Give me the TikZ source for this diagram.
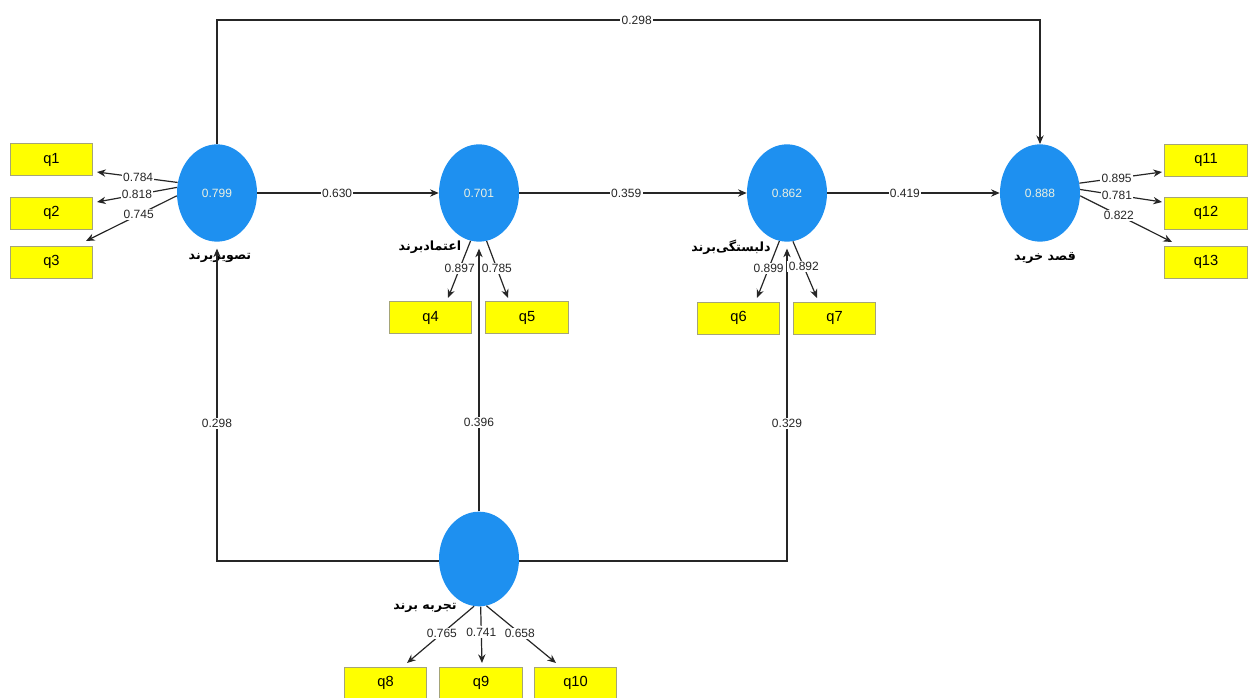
\documentclass[tikz,border=0pt]{standalone}
\usepackage{fontspec}
\setmainfont{Liberation Sans}
\newfontfamily\arabicfont[Script=Arabic]{DejaVu Sans}
\TeXXeTstate=1
\usetikzlibrary{shapes.geometric,arrows.meta}
\definecolor{latent}{RGB}{30,144,240}
\definecolor{latenttext}{RGB}{235,240,225}
\definecolor{itemfill}{RGB}{255,255,0}
\definecolor{itemdraw}{RGB}{165,165,120}
\begin{document}
\begin{tikzpicture}[x=0.75pt,y=-0.75pt,
  construct/.style={ellipse,fill=latent,draw=none,minimum width=60pt,minimum height=73pt,inner sep=0pt,
    text=latenttext,font=\fontsize{9}{11}\selectfont},
  item/.style={rectangle,fill=itemfill,draw=itemdraw,line width=0.6pt,minimum width=62pt,minimum height=24pt,
    inner sep=0pt,font=\fontsize{11}{13}\selectfont},
  cname/.style={font=\arabicfont\bfseries\fontsize{9.5}{11}\selectfont},
  path/.style={draw=black!85,line width=0.9pt},
  arr/.style={path,-{Stealth[length=6.5pt,width=5.5pt]}},
  lab/.style={fill=white,inner sep=1pt,font=\fontsize{9}{10}\selectfont,text=black!85}]
\useasboundingbox (0,0) rectangle (1250,698);

% latent constructs
\node[construct] (img) at (217,193) {0.799};
\node[construct] (trust) at (479,193) {0.701};
\node[construct] (att) at (787,193) {0.862};
\node[construct] (pi) at (1040,193) {0.888};
\node[construct,minimum height=71pt] (exp) at (479,559) {};

% construct names
\node[cname] (nimg) at (220,258) {\beginR تصویربرند\endR};
\node[cname] (ntrust) at (430,247) {\beginR اعتمادبرند\endR};
\node[cname] (natt) at (731,247) {\beginR دلبستگی‌برند\endR};
\node[cname] (npi) at (1045,258) {\beginR قصد خرید\endR};
\node[cname] (nexp) at (425,608) {\beginR تجربه برند\endR};

% indicators
\node[item] (q1) at (51.5,159.5) {q1};
\node[item] (q2) at (51.5,213) {q2};
\node[item] (q3) at (51.5,262) {q3};
\node[item] (q4) at (430.5,317.5) {q4};
\node[item] (q5) at (527,317.5) {q5};
\node[item] (q6) at (738.5,318) {q6};
\node[item] (q7) at (834.5,318) {q7};
\node[item] (q8) at (385.5,683) {q8};
\node[item] (q9) at (481,683) {q9};
\node[item] (q10) at (575.5,683) {q10};
\node[item] (q11) at (1206,160) {q11};
\node[item] (q12) at (1206,213) {q12};
\node[item] (q13) at (1206,262) {q13};

% arrow ends just outside the indicator boxes
\coordinate (t1) at (97,172);
\coordinate (t2) at (97,202);
\coordinate (t3) at (86,241);
\coordinate (t4) at (448,298);
\coordinate (t5) at (508,298);
\coordinate (t6) at (757,298);
\coordinate (t7) at (817,298);
\coordinate (t8) at (407,663);
\coordinate (t9) at (482,663);
\coordinate (t10) at (556,663);
\coordinate (t11) at (1162,172);
\coordinate (t12) at (1162,202);
\coordinate (t13) at (1172,242);

% path corners
\coordinate (topl) at (217,20);
\coordinate (topr) at (1040,20);
\coordinate (botl) at (217,561);
\coordinate (botr) at (787,561);

% structural paths
\draw[arr] (img.north) -- (topl) -- node[lab,pos=0.51] {0.298} (topr) -- (pi.north);
\draw[arr] (img) -- node[lab,pos=0.44] {0.630} (trust);
\draw[arr] (trust) -- node[lab,pos=0.47] {0.359} (att);
\draw[arr] (att) -- node[lab,pos=0.45] {0.419} (pi);
\draw[arr,shorten >=5pt] (exp.west |- botl) -- (botl) -- node[lab,pos=0.43] {0.298} (img.south);
\draw[arr,shorten >=5pt] (exp.north) -- node[lab,pos=0.33] {0.396} (trust.south);
\draw[arr,shorten >=5pt] (exp.east |- botr) -- (botr) -- node[lab,pos=0.43] {0.329} (att.south);

% outer loadings
\draw[arr] (img.165) -- node[lab,pos=0.49] {0.784} (t1);
\draw[arr] (img.172) -- node[lab,pos=0.5] {0.818} (t2);
\draw[arr] (img.184) -- node[lab,pos=0.42] {0.745} (t3);
\draw[arr] (trust.260) -- node[lab,pos=0.48] {0.897} (t4);
\draw[arr] (trust.279) -- node[lab,pos=0.48] {0.785} (t5);
\draw[arr] (att.261) -- node[lab,pos=0.48] {0.899} (t6);
\draw[arr] (att.277) -- node[lab,pos=0.45] {0.892} (t7);
\draw[arr] (exp.264) -- node[lab,pos=0.48] {0.765} (t8);
\draw[arr] (exp.272) -- node[lab,pos=0.45] {0.741} (t9);
\draw[arr] (exp.279) -- node[lab,pos=0.48] {0.658} (t10);
\draw[arr] (pi.14) -- node[lab,pos=0.45] {0.895} (t11);
\draw[arr] (pi.5) -- node[lab,pos=0.45] {0.781} (t12);
\draw[arr] (pi.356) -- node[lab,pos=0.42] {0.822} (t13);
\end{tikzpicture}
\end{document}
